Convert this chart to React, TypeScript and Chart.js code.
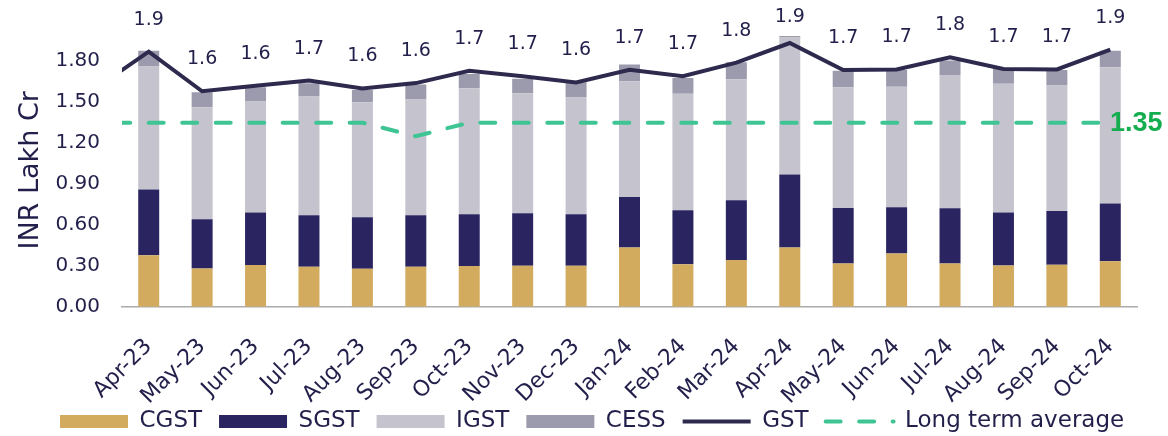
import React, { useEffect, useRef } from 'react';
import { Chart, registerables } from 'chart.js';

Chart.register(...registerables);

// Mar-23 is only used so the lines enter from the left edge (axis starts at Apr-23)
const categories = [
  'Mar-23', 'Apr-23', 'May-23', 'Jun-23', 'Jul-23', 'Aug-23', 'Sep-23', 'Oct-23', 'Nov-23', 'Dec-23',
  'Jan-24', 'Feb-24', 'Mar-24', 'Apr-24', 'May-24', 'Jun-24', 'Jul-24', 'Aug-24', 'Sep-24', 'Oct-24',
];
const firstShown = 'Apr-23';

const cgst = [null, 0.378, 0.281, 0.305, 0.293, 0.278, 0.293, 0.298, 0.300, 0.300, 0.434, 0.312, 0.342, 0.434, 0.317, 0.390, 0.317, 0.303, 0.307, 0.334];
const sgst = [null, 0.481, 0.361, 0.385, 0.378, 0.378, 0.378, 0.380, 0.385, 0.378, 0.371, 0.395, 0.439, 0.536, 0.407, 0.339, 0.405, 0.387, 0.395, 0.422];
const igst = [null, 0.902, 0.821, 0.815, 0.870, 0.844, 0.848, 0.924, 0.881, 0.856, 0.848, 0.854, 0.887, 1.005, 0.885, 0.885, 0.978, 0.946, 0.920, 1.000];
const cess = [null, 0.117, 0.110, 0.104, 0.098, 0.090, 0.110, 0.105, 0.105, 0.112, 0.123, 0.117, 0.124, 0.010, 0.122, 0.122, 0.105, 0.112, 0.114, 0.122];
const gst = [1.60, 1.87, 1.58, 1.62, 1.658, 1.60, 1.64, 1.73, 1.69, 1.644, 1.737, 1.69, 1.79, 1.934, 1.736, 1.74, 1.83, 1.744, 1.74, 1.885];
const longTermAvg = [1.35, 1.35, 1.35, 1.35, 1.35, 1.35, 1.25, 1.35, 1.35, 1.35, 1.35, 1.35, 1.35, 1.35, 1.35, 1.35, 1.35, 1.35, 1.35, 1.35];

const yMin = 0;
const yMax = 2.0;
const yStep = 0.3;
const yLastTick = 1.8;

const TEXT = '#221F4B';
const FONT = "'DejaVu Sans', sans-serif";

export default function App() {
  const ref = useRef<HTMLCanvasElement>(null);

  useEffect(() => {
    const canvas = ref.current;
    if (!canvas) return;
    Chart.defaults.font.family = FONT;
    Chart.defaults.color = TEXT;

    const legendPad = 17;

    const labelPlugin = {
      id: 'valueLabels',
      afterLayout(chart: any) {
        const lg = chart.legend;
        if (lg) {
          const dx = 60 - (lg.left + legendPad);
          lg.left += dx;
          lg.right += dx;
        }
        // let the rotated month labels extend below the axis box (no clipping)
        const xs = chart.scales.x;
        if (xs) xs.bottom = chart.height;
      },
      afterDatasetsDraw(chart: any) {
        const ctx = chart.ctx;
        const area = chart.chartArea;
        ctx.save();
        const gMeta = chart.getDatasetMeta(4);
        ctx.font = `19px ${FONT}`;
        ctx.fillStyle = TEXT;
        ctx.textAlign = 'center';
        ctx.textBaseline = 'middle';
        gMeta.data.forEach((pt: any, i: number) => {
          if (pt.x < area.left) return;
          const v = gst[i];
          ctx.fillText((Math.round(v * 10) / 10).toFixed(1), pt.x, Math.max(pt.y - 32, 17));
        });
        const aMeta = chart.getDatasetMeta(5);
        const lastIdx = aMeta.data.length - 1;
        const last = aMeta.data[lastIdx];
        ctx.font = "bold 27px 'Liberation Sans', sans-serif";
        ctx.fillStyle = '#14AD4F';
        ctx.textAlign = 'left';
        ctx.fillText(longTermAvg[lastIdx].toFixed(2), area.right - 27, last.y + 1);
        ctx.restore();
      },
    };

    const barCommon = { stack: 'tax', order: 1, barPercentage: 0.393, categoryPercentage: 1, borderWidth: 0 };

    const chart = new Chart(canvas, {
      type: 'bar',
      data: {
        labels: categories,
        datasets: [
          { type: 'bar', label: 'CGST', data: cgst, backgroundColor: '#D3AB5F', ...barCommon },
          { type: 'bar', label: 'SGST', data: sgst, backgroundColor: '#2A2560', ...barCommon },
          { type: 'bar', label: 'IGST', data: igst, backgroundColor: '#C4C3CE', ...barCommon },
          { type: 'bar', label: 'CESS', data: cess, backgroundColor: '#9C9AAD', ...barCommon },
          {
            type: 'line', label: 'GST', data: gst, borderColor: '#2D2A4E', backgroundColor: '#2D2A4E',
            borderWidth: 4, pointRadius: 0, pointHoverRadius: 0, tension: 0, fill: false,
            stack: 'gst', order: 0, pointStyle: 'line',
          },
          {
            type: 'line', label: 'Long term average', data: longTermAvg, borderColor: '#3EC593', backgroundColor: '#3EC593',
            borderWidth: 4, borderDash: [15, 18.5], borderDashOffset: 13.6, borderCapStyle: 'round',
            pointRadius: 0, pointHoverRadius: 0, tension: 0, fill: false,
            stack: 'avg', order: 0, pointStyle: 'line',
          },
        ] as any,
      },
      options: {
        animation: false,
        responsive: true,
        maintainAspectRatio: false,
        layout: { padding: { top: 33, right: 31, left: 0, bottom: 0 } },
        plugins: {
          tooltip: { enabled: false },
          legend: {
            position: 'bottom',
            align: 'start',
            labels: {
              usePointStyle: true,
              pointStyleWidth: 68,
              boxHeight: 13,
              padding: legendPad,
              color: TEXT,
              font: { size: 23, family: FONT },
              generateLabels: (ch: any) => {
                const items = (Chart.defaults as any).plugins.legend.labels.generateLabels(ch);
                return items
                  .map((it: any) => {
                    const ds = ch.data.datasets[it.datasetIndex];
                    const isLine = ds.type === 'line';
                    if (!isLine) return { ...it, pointStyle: 'rect', lineWidth: 0 };
                    return {
                      ...it,
                      pointStyle: 'line',
                      strokeStyle: ds.borderColor,
                      fillStyle: ds.borderColor,
                      lineWidth: ds.borderWidth,
                      lineDash: ds.borderDash || [],
                      lineDashOffset: 0,
                      lineCap: ds.borderCapStyle || 'butt',
                    };
                  })
                  .sort((a: any, b: any) => a.datasetIndex - b.datasetIndex);
              },
            },
          },
        },
        scales: {
          x: {
            stacked: true,
            min: firstShown,
            grid: { display: false, drawTicks: false },
            border: { display: true, color: '#ABABAB', width: 1.5 },
            ticks: {
              autoSkip: false, maxRotation: 45, minRotation: 45, padding: 27,
              color: TEXT, font: { size: 22, family: FONT },
            },
            afterFit: (s: any) => { s.height = 86.3; },
          },
          y: {
            stacked: true,
            min: yMin,
            max: yMax,
            bounds: 'data',
            grid: { display: false, drawTicks: false },
            border: { display: false },
            ticks: {
              stepSize: yStep, includeBounds: false, padding: 22,
              color: TEXT, font: { size: 20, family: FONT },
              callback: (v: any) => Number(v).toFixed(2),
            },
            afterBuildTicks: (s: any) => {
              s.ticks = s.ticks.filter((t: any) => t.value <= yLastTick + 1e-9);
            },
            title: {
              display: true, text: 'INR Lakh Cr', color: TEXT,
              font: { size: 27, family: FONT }, padding: { top: 14.4, bottom: 0 },
            },
            afterFit: (s: any) => { s.width = 122; },
          },
        },
      } as any,
      plugins: [labelPlugin],
    });

    return () => chart.destroy();
  }, []);

  return (
    <div style={{ position: 'fixed', left: 0, top: 0, width: 1168, height: 443, background: '#fff' }}>
      <canvas ref={ref} />
    </div>
  );
}
